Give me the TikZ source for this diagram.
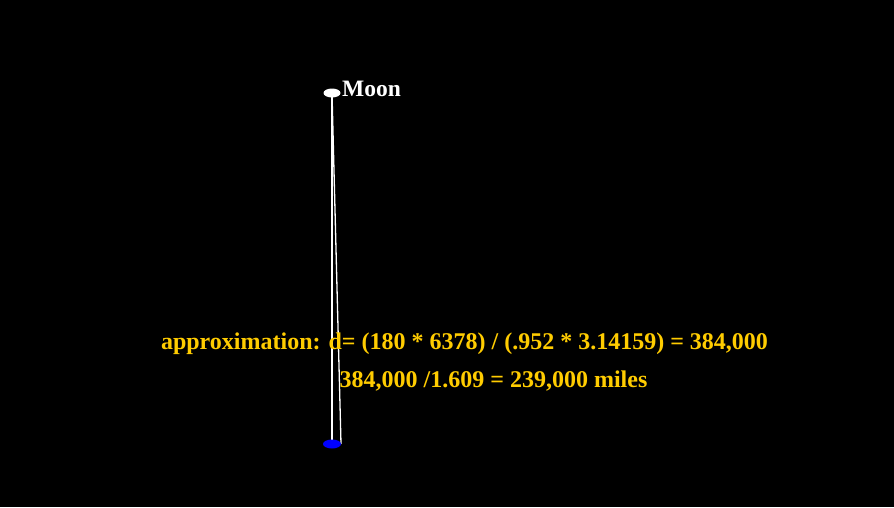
\documentclass[tikz,border=0pt]{standalone}
\usepackage{fontspec}
\setmainfont{Liberation Serif}
\usetikzlibrary{shapes.geometric}
\definecolor{gold}{HTML}{FFCC00}
\begin{document}
\begin{tikzpicture}[x=1pt,y=-1pt,
  lbl/.style={font=\bfseries\fontsize{24}{28}\selectfont, text=gold, inner sep=0pt},
  wire/.style={draw=white, line width=1.3pt}]
\fill[black] (0,0) rectangle (894,507);
\useasboundingbox (0,0) rectangle (894,507);
\coordinate (top) at (332,93);
\coordinate (bot) at (332,444);
\coordinate (bot2) at (341,444);
\draw[wire] (top) -- (bot);
\draw[wire] (top) -- (bot2);
\node[fill=white, ellipse, minimum width=17pt, minimum height=9pt, inner sep=0pt] (moon) at (top) {};
\node[fill=blue, ellipse, minimum width=18pt, minimum height=9pt, inner sep=0pt] (earth) at (bot) {};
\node[font=\bfseries\fontsize{23.5}{28}\selectfont, text=white, anchor=west, inner sep=0pt] (mlabel) at (342,89) {Moon};
\node[lbl] (l1) at (464.5,344) {approximation: d= (180 * 6378) / (.952 * 3.14159) = 384,000};
\node[lbl] (l2) at (493.5,381) {384,000 /1.609 = 239,000 miles};
\end{tikzpicture}
\end{document}
